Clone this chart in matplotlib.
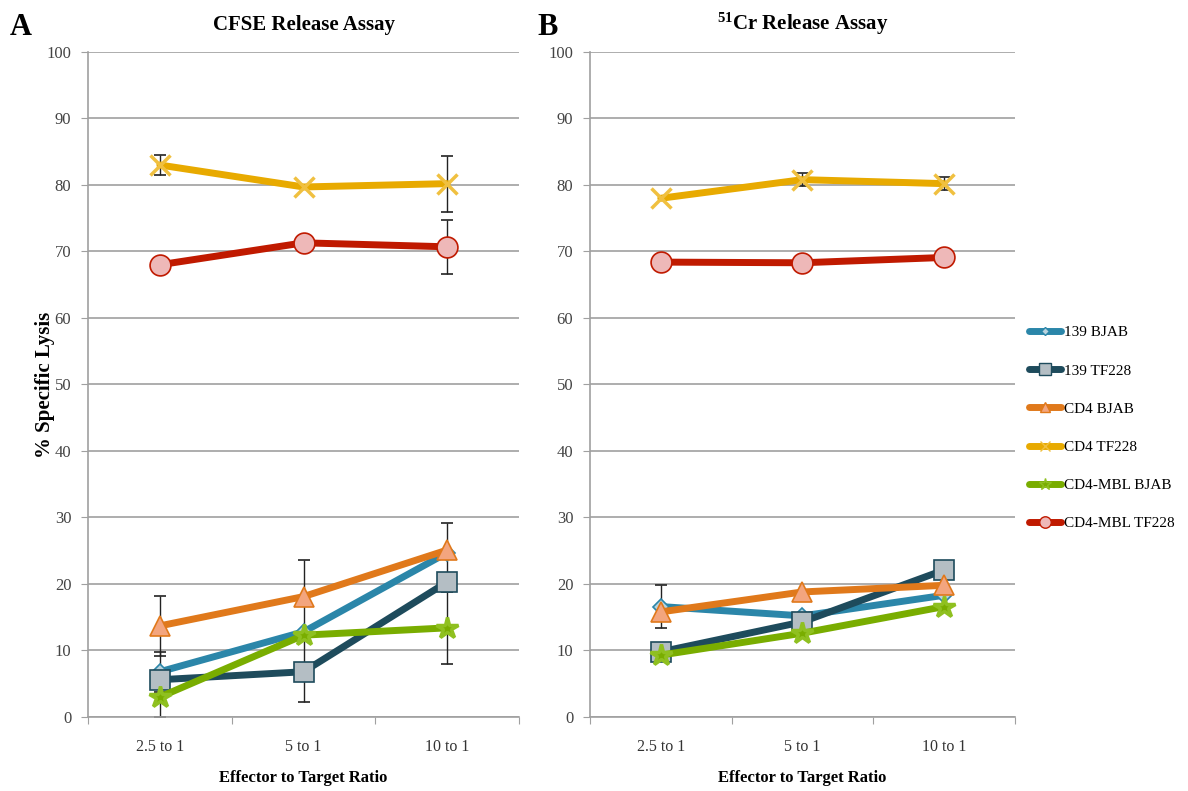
import numpy as np
import matplotlib
matplotlib.use('Agg')
import matplotlib.pyplot as plt
from matplotlib.lines import Line2D

plt.rcParams['font.family'] = ['Liberation Serif', 'DejaVu Serif']
plt.rcParams['mathtext.fontset'] = 'custom'
plt.rcParams['mathtext.rm'] = 'Liberation Serif'

# данные
ratios = ['2.5 to 1', '5 to 1', '10 to 1']
series = ['139 BJAB', '139 TF228', 'CD4 BJAB', 'CD4 TF228', 'CD4-MBL BJAB', 'CD4-MBL TF228']

cfse_139_bjab = [6.8, 12.8, 24.7]
cfse_139_tf228 = [5.6, 6.8, 20.3]
cfse_cd4_bjab = [13.7, 18.1, 25.1]
cfse_cd4_tf228 = [83.0, 79.7, 80.2]
cfse_mbl_bjab = [3.0, 12.3, 13.4]
cfse_mbl_tf228 = [68.0, 71.3, 70.7]

cfse_err_139_bjab = [3.0, 0.0, 0.0]
cfse_err_139_tf228 = [0.0, 4.6, 0.0]
cfse_err_cd4_bjab = [4.5, 5.5, 4.1]
cfse_err_cd4_tf228 = [1.5, 0.0, 4.2]
cfse_err_mbl_bjab = [3.0, 0.0, 5.4]
cfse_err_mbl_tf228 = [0.0, 0.0, 4.1]

cr_139_bjab = [16.6, 15.2, 18.3]
cr_139_tf228 = [9.8, 14.3, 22.1]
cr_cd4_bjab = [15.8, 18.8, 19.8]
cr_cd4_tf228 = [78.0, 80.8, 80.2]
cr_mbl_bjab = [9.3, 12.6, 16.6]
cr_mbl_tf228 = [68.4, 68.3, 69.1]

cr_err_139_bjab = [3.2, 0.0, 0.0]
cr_err_139_tf228 = [0.0, 0.0, 0.0]
cr_err_cd4_bjab = [0.0, 0.0, 0.0]
cr_err_cd4_tf228 = [0.0, 1.0, 1.0]
cr_err_mbl_bjab = [0.0, 0.0, 0.0]
cr_err_mbl_tf228 = [0.0, 0.0, 0.0]

# стили серий: цвет линии, маркер, заливка маркера, край маркера, размер
styles = [
    ('#2b86a9', 'D', '#b9d3de', '#2b86a9', 8),
    ('#1e4b5c', 's', '#b4bec4', '#1e4b5c', 15),
    ('#e0791b', '^', '#f3a57e', '#e0791b', 14),
    ('#e8aa00', 'x', '#e8aa00', '#f0c040', 14),
    ('#79ad00', '*', '#79ad00', '#8fc020', 16),
    ('#c01a00', 'o', '#eeb8b8', '#c01a00', 15),
]

fig = plt.figure(figsize=(11.88, 7.91), dpi=100)
ax1 = fig.add_axes([0.0741, 0.0936, 0.3628, 0.8407])
ax2 = fig.add_axes([0.4966, 0.0936, 0.3577, 0.8407])

cfse = [cfse_139_bjab, cfse_139_tf228, cfse_cd4_bjab, cfse_cd4_tf228, cfse_mbl_bjab, cfse_mbl_tf228]
cfse_err = [cfse_err_139_bjab, cfse_err_139_tf228, cfse_err_cd4_bjab,
            cfse_err_cd4_tf228, cfse_err_mbl_bjab, cfse_err_mbl_tf228]
cr = [cr_139_bjab, cr_139_tf228, cr_cd4_bjab, cr_cd4_tf228, cr_mbl_bjab, cr_mbl_tf228]
cr_err = [cr_err_139_bjab, cr_err_139_tf228, cr_err_cd4_bjab,
          cr_err_cd4_tf228, cr_err_mbl_bjab, cr_err_mbl_tf228]

x = np.arange(len(ratios)) + 0.5


def draw(ax, data, errs, title):
    for vals, err, st in zip(data, errs, styles):
        col, mk, fc, ec, ms = st
        err = np.array(err)
        v = np.array(vals)
        m = err > 0
        if m.any():
            ax.errorbar(x[m], v[m], yerr=err[m], fmt='none', ecolor='#222222',
                        elinewidth=1, capsize=4, capthick=1.2, zorder=2)
        mew = 2.5 if mk in ('x', '*') else 1.2
        ax.plot(x, v, color=col, lw=5, marker=mk, ms=ms, mfc=fc, mec=ec,
                mew=mew, solid_capstyle='round', zorder=3)
    ax.set_xlim(0, 3)
    ax.set_ylim(0, 100)
    ax.set_yticks(np.arange(0, 101, 10))
    ax.yaxis.grid(True, color='#a0a0a0', lw=1.2)
    ax.set_axisbelow(True)
    ax.set_xticks([0, 1, 2, 3])
    ax.set_xticklabels([])
    ax.set_xticks(x, minor=True)
    ax.set_xticklabels(ratios, minor=True)
    ax.tick_params(axis='x', which='minor', length=0, pad=16, labelsize=11.5, labelcolor='#333333')
    ax.tick_params(axis='x', which='major', length=5, color='#a0a0a0')
    ax.tick_params(axis='y', length=5, color='#a0a0a0', labelsize=12, labelcolor='#444444', pad=7)
    for s in ['top', 'right']:
        ax.spines[s].set_visible(False)
    for s in ['left', 'bottom']:
        ax.spines[s].set_color('#a0a0a0')
        ax.spines[s].set_linewidth(1.2)
    ax.set_xlabel('Effector to Target Ratio', fontsize=12, fontweight='bold', labelpad=11)
    ax.set_title(title, fontsize=15, fontweight='bold', pad=16)


draw(ax1, cfse, cfse_err, 'CFSE Release Assay')
draw(ax2, cr, cr_err, r'$\mathregular{^{51}}$Cr Release Assay')
ax1.set_ylabel('% Specific Lysis', fontsize=15, fontweight='bold', labelpad=-6)

fig.text(0.008, 0.965, 'A', fontsize=22, fontweight='bold', va='center')
fig.text(0.452, 0.965, 'B', fontsize=22, fontweight='bold', va='center')

handles = []
for name, st in zip(series, styles):
    col, mk, fc, ec, ms = st
    handles.append(Line2D([], [], color=col, lw=5, marker=mk, ms=ms * 0.55,
                          mfc=fc, mec=ec, solid_capstyle='round'))
fig.legend(handles, series, loc='center left', bbox_to_anchor=(0.861, 0.459),
           frameon=False, fontsize=11, labelspacing=1.6, handlelength=2.1,
           handletextpad=0.2, borderaxespad=0)

fig.savefig('out.png', dpi=100)
